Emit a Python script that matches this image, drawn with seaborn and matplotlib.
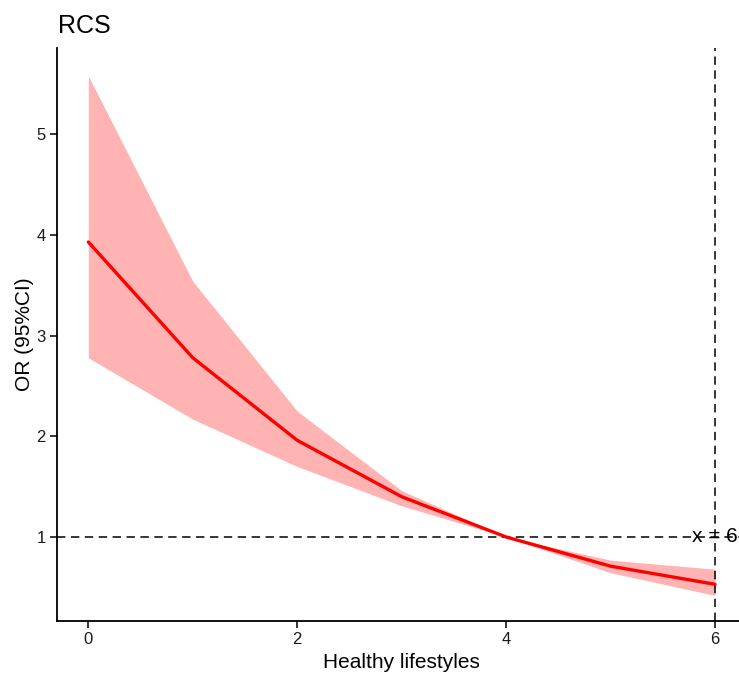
import numpy as np
import pandas as pd
import matplotlib
matplotlib.use("Agg")
import matplotlib.pyplot as plt
import seaborn as sns

# Data
lifestyles = [0, 1, 2, 3, 4, 5, 6]
or_est = [3.93, 2.78, 1.96, 1.40, 1.00, 0.71, 0.53]
ci_upper = [5.58, 3.54, 2.25, 1.46, 1.00, 0.77, 0.68]
ci_lower = [2.78, 2.17, 1.70, 1.31, 1.00, 0.645, 0.42]
ref_x = 6
ref_y = 1
x_ticks = [0, 2, 4, 6]
y_ticks = [1, 2, 3, 4, 5]

df = pd.DataFrame({"x": lifestyles, "OR": or_est, "lo": ci_lower, "hi": ci_upper})

sns.set_style("ticks")
plt.rcParams["font.family"] = ["Liberation Sans", "DejaVu Sans"]

W, H = 739, 676
fig = plt.figure(figsize=(W / 100, H / 100), dpi=100)
ax = fig.add_axes([57 / W, (H - 621) / H, (W - 57) / W, (621 - 48) / H])

ax.fill_between(df["x"], df["lo"], df["hi"], color="#FFB3B3", linewidth=0, zorder=1)
sns.lineplot(data=df, x="x", y="OR", color="#FF0000", linewidth=2.4, ax=ax, zorder=3)

ax.axhline(ref_y, color="black", linewidth=1.1, dashes=(5.5, 3.6), zorder=2)
ax.axvline(ref_x, color="black", linewidth=1.1, dashes=(5.5, 3.6), zorder=2)
ax.text(ref_x, ref_y, "x = 6", ha="center", va="center", fontsize=15, color="black",
        zorder=4, clip_on=False)

ax.set_xlim(-0.3, 6.229)
ax.set_ylim(0.1656, 5.857)
ax.set_xticks(x_ticks)
ax.set_yticks(y_ticks)
ax.set_xticklabels([str(t) for t in x_ticks])
ax.set_yticklabels([str(t) for t in y_ticks])

for s in ["top", "right"]:
    ax.spines[s].set_visible(False)
for s in ["left", "bottom"]:
    ax.spines[s].set_linewidth(1.3)
    ax.spines[s].set_color("black")

ax.tick_params(axis="both", length=5, width=1.1, color="black", labelsize=12,
               labelcolor="#1a1a1a", pad=3)

ax.set_xlabel("Healthy lifestyles", fontsize=15, color="black")
ax.set_ylabel("OR (95%CI)", fontsize=15, color="black")
ax.xaxis.set_label_coords((401 - 57) / (W - 57), -(663 - 621) / (621 - 48))
ax.yaxis.set_label_coords(-(57 - 25) / (W - 57), 0.5)
ax.xaxis.label.set_va("center")
ax.yaxis.label.set_va("center")

fig.text(58 / W, 1 - 33 / H, "RCS", fontsize=18, ha="left", va="baseline", color="black")

fig.savefig("out.png", dpi=100, facecolor="white")
